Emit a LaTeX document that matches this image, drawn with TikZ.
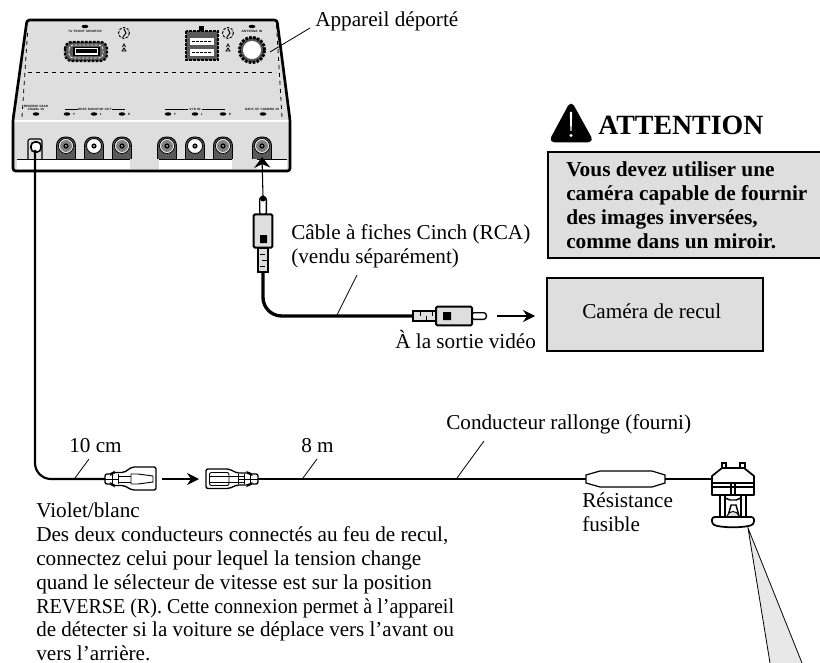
\documentclass[tikz,border=0pt]{standalone}
\usepackage{fontspec}
\setmainfont{Liberation Serif}
\usepackage{tikz}
\usetikzlibrary{arrows.meta,positioning,calc,shapes.geometric}
\definecolor{panelgray}{gray}{0.87}
\definecolor{boxgray}{gray}{0.87}
\definecolor{jackgray}{gray}{0.35}
\tikzset{
	cable/.style={line width=2.5pt,color=black,rounded corners=14pt},
	thinwire/.style={line width=1.6pt,color=black,rounded corners=12pt},
	leader/.style={line width=.6pt,color=black},
	flow/.style={->,>={Stealth[width=9pt,length=9pt]},line width=.8pt,color=black},
	bigflow/.style={->,>={Stealth[width=12pt,length=8pt]},line width=.8pt,color=black},
	lbl/.style={font=\fontsize{15.9}{18}\selectfont,inner sep=0,align=left,text=black},
	tiny/.style={font=\fontsize{2.3}{2}\selectfont\sffamily\bfseries,inner sep=0,align=center},
	hole/.style={ellipse,fill=black,inner sep=0,minimum width=5pt,minimum height=2.6pt},
	notebox/.style={draw,fill=boxgray,line width=1.5pt,inner sep=0,rectangle},
	plugbody/.style={rectangle,draw,fill=boxgray,line width=1.5pt,rounded corners=1pt,inner sep=0},
	plugtip/.style={rectangle,draw,fill=white,line width=1pt,rounded corners=2pt,inner sep=0},
	plugcuff/.style={rectangle,draw,fill=boxgray,line width=1.1pt,inner sep=0},
	fuseplug/.style={draw,fill=white,line width=1pt,rounded corners=1.5pt},
	detail/.style={line width=.7pt}
}
\begin{document}
\begin{tikzpicture}[x=.75pt,y=-.75pt]
		\useasboundingbox (0,0) rectangle (820,663);
		%%%remote unit
		\fill[panelgray] (27,20) -- (277,20) -- (290,122) -- (13,122) -- cycle;
		\fill[panelgray] (13,122) rectangle (290,171);
		\draw[white,line width=1.5pt] (14,121.5) -- (289,121.5);
		\fill[white] (17,159) rectangle (130,169);
		\fill[white] (159,159) rectangle (232,169);
		\fill[white] (257,159) rectangle (287,169);
		\draw[line width=.7pt] (17,159) -- (130,159) (159,159) -- (232,159) (257,159) -- (287,159);
		\draw[line width=2pt,line join=round,rounded corners=2pt] (13,120) -- (27,20) -- (277,20) -- (290,120) -- (290,171) -- (13,171) -- cycle;
		\draw[dashed,line width=.6pt] (27.5,33) -- (22,117);
		\draw[dashed,line width=.6pt] (276.5,25) -- (282,117);
		\draw[dashed,line width=.7pt] (28,72) -- (276,72);
		%%%top connectors
		\draw[line width=1.6pt,dash pattern=on 2pt off 1pt,fill=jackgray,rounded corners=5pt] (65,42) rectangle (107,61);
		\draw[white,line width=.6pt,dash pattern=on 2pt off 1pt,rounded corners=3pt] (69,45) rectangle (103,58);
		\draw[line width=.8pt,fill=white] (74,47.5) rectangle (99,55.5);
		\fill[black] (76,49.5) rectangle (97,53.5);
		\draw[line width=1.6pt,dash pattern=on 2pt off 1pt,fill=jackgray] (186,31) rectangle (218,60);
		\fill[black] (199,26) rectangle (204,31);
		\foreach \y in {38,49} {
			\fill[white] (190,\y) rectangle (214,\y+7);
			\draw[line width=1pt,dash pattern=on 2pt off 1pt] (192,\y+3.5) -- (212,\y+3.5);
		}
		\node[circle,draw,line width=2.2pt,dash pattern=on 2pt off 1pt,fill=jackgray,minimum size=19pt,inner sep=0] (antenna) at (252,50) {};
		\node[circle,draw=white,line width=.5pt,fill=white,minimum size=13pt,inner sep=0] (antcore) at (252,50) {};
		\foreach \x in {124,228} {
			\draw[line width=.7pt,dash pattern=on 2pt off 1pt] (\x,33) circle (5.5);
			\draw[line width=.7pt] (\x,29) -- (\x+2,33) -- (\x-1,37);
			\draw[line width=.6pt] (\x-1.5,47) -- (\x,44) -- (\x+1.5,47) (\x-2,51) -- (\x+2,51) -- (\x,48) -- cycle;
		}
		%%%small print
		\node[hole] (hole1) at (85,26.5) {};
		\node[hole] (hole2) at (252,26.5) {};
		\node[tiny] (tvlabel) at (85,31) {TV FRONT MONITOR};
		\node[tiny] (antlabel) at (252,31) {ANTENNA IN};
		\node[tiny] (revlabel) at (36,108) {REVERSE GEAR\\SIGNAL IN};
		\node[tiny] (rearlabel) at (95,109) {REAR MONITOR OUT};
		\node[tiny] (vcrlabel) at (195,109) {VCR IN};
		\node[tiny] (camlabel) at (262,109) {BACK UP CAMERA IN};
		\draw[line width=.3pt] (65,109) -- (78,109) (112,109) -- (125,109) (165,109) -- (188,109) (202,109) -- (225,109);
		\node[hole] (holerev) at (36,114) {};
		\node[hole] (holecam) at (263,114) {};
		\foreach \x/\t in {67/Y,94/L,122/R,168/Y,195/L,223/R} {
			\node[hole] (hole\x) at (\x,114) {};
			\node[tiny,right=1.5pt of hole\x] (tag\x) {\t};
		}
		%%%jacks
		\foreach \x/\c in {66/gray,94/white,122/gray,167/gray,195/white,223/gray,262/gray} {
			\draw[fill=jackgray,line width=.7pt,rounded corners=6.5pt] (\x-9.5,159) -- (\x-9.5,137) -- (\x+9.5,137) -- (\x+9.5,159);
			\draw[fill=white,line width=.6pt] (\x,146) circle (7.5);
			\fill[\c] (\x,146) circle (6);
			\fill[black] (\x,146) circle (2.6);
			\fill[white] (\x,146) circle (.9);
		}
		\draw[fill=panelgray,line width=.8pt,rounded corners=1.5pt] (28,159) -- (28,139) -- (42,139) -- (42,159);
		\draw[fill=white,line width=1.2pt,rounded corners=3pt] (31,142) rectangle (41,152);
		\coordinate (revjack) at (35,150);
		\coordinate (camjack) at (262,157);
		%%%lead from reverse input
		\draw[fuseplug] (105,474) -- (112,474) -- (113,472.5) -- (124,472.5) -- (132,467) -- (156,467) -- (156,490) -- (132,490) -- (124,485.5) -- (113,485.5) -- (112,484) -- (105,484) -- cycle;
		\draw[detail] (112,474) -- (112,484) (105,479) -- (118,479) (118,474) -- (118,484) (118,476) -- (131,476) (118,482) -- (131,482);
		\draw[detail] (131,474) -- (138,474) -- (153,476) -- (153,482) -- (138,484) -- (131,484) -- cycle;
		\draw[fuseplug] (206,469) -- (229,469) -- (237,473) -- (249,473) -- (250,474) -- (258,474) -- (258,484) -- (250,484) -- (249,485) -- (237,485) -- (229,488.5) -- (206,488.5) -- cycle;
		\draw[detail,rounded corners=1.5pt] (209.5,472.5) rectangle (229,485.5);
		\draw[detail] (210,476) -- (229,476) (210,482) -- (229,482) (229,476) -- (244,476) (229,482) -- (244,482) (238,474) -- (238,484) (244,474) -- (244,484) (250,474) -- (250,484) (238,479) -- (258,479);
		\coordinate (stemA) at (105,479);
		\coordinate (plugAend) at (156,479);
		\coordinate (plugBend) at (206,479);
		\coordinate (stemB) at (258,479);
		\draw[thinwire] (revjack) -- (35,479) -- (stemA);
		\draw[flow] (plugAend) ++(6,0) -- ($(plugBend)+(-7,0)$);
		%%%fuse and lamp
		\draw[fill=white,line width=.9pt] (586,475) -- (600,471) -- (652,471) -- (665,475) -- (665,483) -- (652,487) -- (600,487) -- (586,483) -- cycle;
		\coordinate (fuseL) at (586,479);
		\coordinate (fuseR) at (665,479);
		\coordinate (lampL) at (712,479);
		\draw[thinwire] (stemB) -- (fuseL);
		\draw[thinwire] (fuseR) -- (lampL);
		\fill[boxgray!70!white] (748,528) -- (770,663) -- (802,663) -- cycle;
		\draw[line width=.6pt] (770,663) -- (748,528) -- (802,663);
		\draw[line width=1.3pt,fill=white,line join=round] (712,476) -- (722,468) -- (744,468) -- (754,476) -- (754,495) -- (712,495) -- cycle;
		\draw[line width=1.3pt] (722,468) -- (722,463) -- (726,463) -- (726,468) (740,468) -- (740,463) -- (745,463) -- (745,468);
		\draw[line width=.8pt] (712,483) -- (754,483) (712,487) -- (754,487) (731,482) -- (731,495) (735,482) -- (735,495);
		\draw[line width=1.1pt,fill=white] (720,495) -- (720,518) -- (725,518) -- (725,495) -- cycle (741,495) -- (741,518) -- (746,518) -- (746,495) -- cycle;
		\draw[line width=1.1pt] (725,498) -- (730,500) -- (736,500) -- (741,498) (728,516) -- (731,505) -- (736,505) -- (739,516);
		\draw[line width=.7pt,fill=boxgray] (727,516) .. controls (729,510) and (737,510) .. (739,516);
		\draw[line width=1.3pt,fill=white,rounded corners=2pt] (712,517) -- (754,517) -- (754,524) .. controls (745,528) and (721,528) .. (712,524) -- cycle;
		%%%RCA cable
		\node[plugcuff,minimum width=7.5pt,minimum height=18pt] (cuffV) at (263,260) {};
		\node[plugtip,minimum width=5pt,minimum height=13.5pt] (tipV) at (263,206) {};
		\node[plugbody,minimum width=14pt,minimum height=25pt] (plugV) at (263,231) {};
		\node[plugcuff,minimum width=18pt,minimum height=7.5pt] (cuffH) at (425,316) {};
		\node[plugtip,minimum width=11pt,minimum height=5pt] (tipH) at (479,316) {};
		\node[plugbody,minimum width=27pt,minimum height=14pt] (plugH) at (454,316) {};
		\fill[black] (260,235) rectangle (267,243) (443,312) rectangle (451,320);
		\draw[line width=.5pt] (260,254) -- (265,254) (262,260) -- (267,260) (260,266) -- (265,266) (420,311) -- (420,316) (426,316) -- (426,321) (432,311) -- (432,316);
		\draw[cable] (cuffV.south) -- (263,316) -- (cuffH.west);
		\fill[black] (263,198.5) circle (3);
		\draw[bigflow] (tipV.north) -- (camjack);
		\coordinate (arrowout) at (497,316);
		\coordinate (arrowcam) at (535,316);
		\draw[flow] (arrowout) -- (arrowcam);
		%%%labels
		\node[lbl,anchor=base west] (unitlabel) at (315,27) {Appareil déporté};
		\coordinate (unittap) at (270,52);
		\draw[leader] (310,28) -- (unittap);
		\node[lbl,anchor=north west] (cablelabel) at (291,224) {Câble à fiches Cinch (RCA)\\(vendu séparément)};
		\coordinate (cabletap) at (337,315);
		\draw[leader] (357,275) -- (cabletap);
		\node[lbl,anchor=base west] (outlabel) at (395,348) {À la sortie vidéo};
		\node[lbl,anchor=base west] (shortlabel) at (69,452) {10 cm};
		\coordinate (shorttap) at (75,478);
		\draw[leader] (89,459) -- (shorttap);
		\node[lbl,anchor=base west] (longlabel) at (301,452) {8 m};
		\coordinate (longtap) at (303,478);
		\draw[leader] (317,459) -- (longtap);
		\node[lbl,anchor=base west] (extlabel) at (446,429) {Conducteur rallonge (fourni)};
		\coordinate (exttap) at (457,478);
		\draw[leader] (484,441) -- (exttap);
		\node[lbl,anchor=north west] (fuselabel) at (582,492.5) {Résistance\\fusible};
		\node[lbl,anchor=north west,font=\fontsize{15.9}{17.85}\selectfont] (notelabel) at (36,503) {Violet/blanc\\Des deux conducteurs connectés au feu de recul,\\connectez celui pour lequel la tension change\\quand le sélecteur de vitesse est sur la position\\{\addfontfeatures{FakeStretch=.945}REVERSE (R). Cette connexion permet à l’appareil}\\{\addfontfeatures{FakeStretch=.99}de détecter si la voiture se déplace vers l’avant ou}\\vers l’arrière.};
		%%%attention and camera
		\draw[fill=black,line width=2pt,line join=round,rounded corners=3pt] (571,103) -- (550.5,141) -- (592,141) -- cycle;
		\fill[white] (569.8,112) -- (572.2,112) -- (571.6,131) -- (570.4,131) -- cycle;
		\fill[white] (571,135.5) circle (1.6);
		\node[font=\fontsize{20.9}{24}\selectfont\bfseries,inner sep=0,anchor=base west] (warn) at (598,135) {ATTENTION};
		\path[notebox,draw] (548,152) rectangle (823,258);
		\node[lbl,anchor=north west,font=\fontsize{16}{18}\selectfont\bfseries] (warntext) at (566,161.5) {Vous devez utiliser une\\caméra capable de fournir\\des images inversées,\\comme dans un miroir.};
		\node[notebox,minimum width=162pt,minimum height=54.5pt] (camera) at (655,314.5) {};
		\node[lbl,anchor=base west] (cameralabel) at (582,318) {Caméra de recul};
	\end{tikzpicture}
\end{document}
